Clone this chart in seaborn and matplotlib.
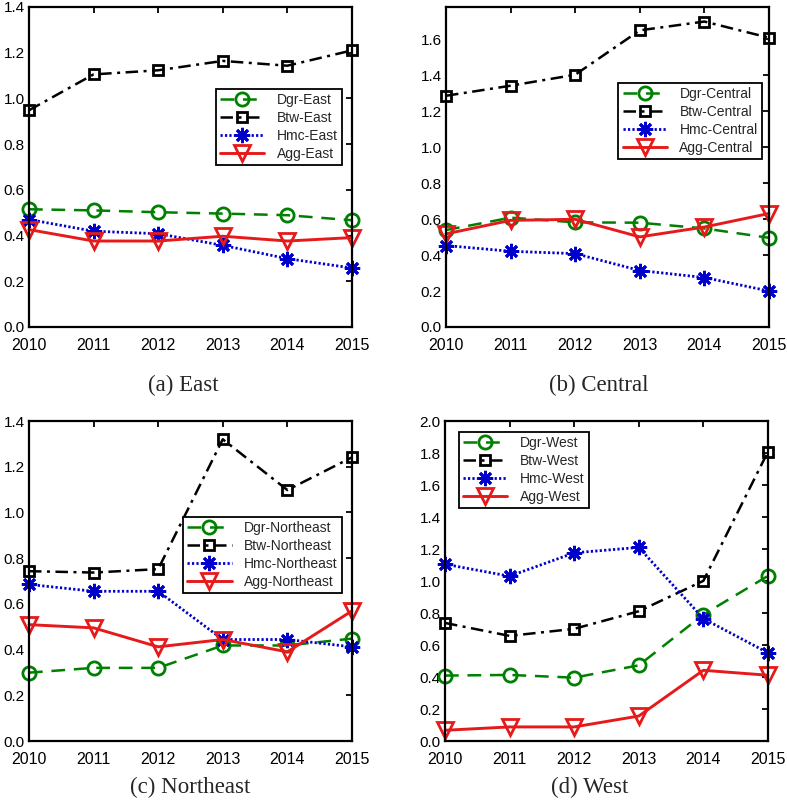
import seaborn as sns
import matplotlib.pyplot as plt
import numpy as np
import pandas as pd

sns.set_theme(style="white")
plt.rcParams['font.family'] = ['Liberation Sans', 'DejaVu Sans']

years = [2010, 2011, 2012, 2013, 2014, 2015]
measures = ['Dgr', 'Btw', 'Hmc', 'Agg']

# значения по регионам
east_dgr = [0.515, 0.510, 0.502, 0.496, 0.489, 0.467]
east_btw = [0.948, 1.105, 1.123, 1.164, 1.143, 1.210]
east_hmc = [0.470, 0.419, 0.408, 0.357, 0.299, 0.258]
east_agg = [0.426, 0.376, 0.376, 0.397, 0.376, 0.391]

central_dgr = [0.539, 0.608, 0.582, 0.580, 0.548, 0.496]
central_btw = [1.286, 1.342, 1.403, 1.650, 1.699, 1.609]
central_hmc = [0.453, 0.421, 0.408, 0.314, 0.275, 0.200]
central_agg = [0.518, 0.593, 0.599, 0.501, 0.556, 0.631]

northeast_dgr = [0.299, 0.320, 0.320, 0.418, 0.418, 0.448]
northeast_btw = [0.743, 0.737, 0.752, 1.320, 1.098, 1.241]
northeast_hmc = [0.685, 0.655, 0.655, 0.444, 0.444, 0.412]
northeast_agg = [0.509, 0.495, 0.412, 0.444, 0.390, 0.569]

west_dgr = [0.409, 0.413, 0.396, 0.473, 0.790, 1.032]
west_btw = [0.738, 0.657, 0.701, 0.811, 1.001, 1.808]
west_hmc = [1.105, 1.030, 1.176, 1.210, 0.765, 0.551]
west_agg = [0.067, 0.088, 0.088, 0.156, 0.442, 0.411]

regions = ['East', 'Central', 'Northeast', 'West']
captions = ['(a) East', '(b) Central', '(c) Northeast', '(d) West']
values = {
    'East': [east_dgr, east_btw, east_hmc, east_agg],
    'Central': [central_dgr, central_btw, central_hmc, central_agg],
    'Northeast': [northeast_dgr, northeast_btw, northeast_hmc, northeast_agg],
    'West': [west_dgr, west_btw, west_hmc, west_agg],
}

# стили линий
styles = {
    'Dgr': dict(color=(0, 0.5, 0), dashes=(5.5, 3.5), marker='o', markersize=9.5, lw=1.8),
    'Btw': dict(color='black', dashes=(5, 2.2, 1.2, 2.2), marker='s', markersize=7, lw=1.8),
    'Hmc': dict(color=(0, 0, 0.8), dashes=(0.8, 0.8), marker=(8, 2, 0), markersize=11, lw=2.0),
    'Agg': dict(color=(0.9, 0.1, 0.1), dashes=(None, None), marker='v', markersize=11, lw=2.1),
}

ylims = [(0, 1.4), (0, 1.78), (0, 1.4), (0, 2.0)]
yticks = [np.arange(0, 1.41, 0.2), np.arange(0, 1.61, 0.2),
          np.arange(0, 1.41, 0.2), np.arange(0, 2.01, 0.2)]
positions = [
    [0.0368, 0.5918, 0.4104, 0.3995],
    [0.5667, 0.5918, 0.4104, 0.3995],
    [0.0368, 0.0749, 0.4104, 0.3995],
    [0.5654, 0.0749, 0.4104, 0.3995],
]
legend_loc = [('upper right', (0.969, 0.744)), ('upper right', (0.978, 0.762)),
              ('upper right', (0.969, 0.700)), ('upper left', (0.043, 0.966))]
caption_xy = [(0.2325, 0.519), (0.761, 0.519), (0.2414, 0.0175), (0.7497, 0.0175)]

fig = plt.figure(figsize=(7.87, 8.01), dpi=100)

for i, region in enumerate(regions):
    ax = fig.add_axes(positions[i])
    for m, vals in zip(measures, values[region]):
        st = styles[m]
        kw = dict(color=st['color'], marker=st['marker'], markersize=st['markersize'],
                  markerfacecolor='none', markeredgecolor=st['color'], markeredgewidth=2.0,
                  linewidth=st['lw'], clip_on=False)
        if st['dashes'][0] is not None:
            kw['dashes'] = st['dashes']
        sns.lineplot(x=years, y=vals, ax=ax, label=f'{m}-{region}', **kw)
    ax.set_xlim(2010, 2015)
    ax.set_ylim(*ylims[i])
    ax.set_xticks(years)
    ax.set_yticks(yticks[i])
    ax.set_yticklabels([f'{t:.1f}' for t in yticks[i]])
    ax.tick_params(direction='in', top=True, right=True, length=4, width=1.3,
                   labelsize=11.5, colors='black')
    ax.tick_params(axis='x', pad=8)
    ax.tick_params(axis='y', pad=3, labelsize=11)
    for sp in ax.spines.values():
        sp.set_linewidth(1.6)
        sp.set_color('black')
    loc, anchor = legend_loc[i]
    leg = ax.legend(loc=loc, bbox_to_anchor=anchor, borderaxespad=0, fontsize=10,
                    fancybox=False, frameon=True, handlelength=3.2, handletextpad=0.9,
                    labelspacing=0.28, borderpad=0.3, framealpha=1)
    leg.get_frame().set_edgecolor('black')
    leg.get_frame().set_linewidth(1.3)
    fig.text(caption_xy[i][0], caption_xy[i][1], captions[i], ha='center', va='center',
             fontsize=16.5, family='Liberation Serif')

fig.savefig('out.png', dpi=100)
